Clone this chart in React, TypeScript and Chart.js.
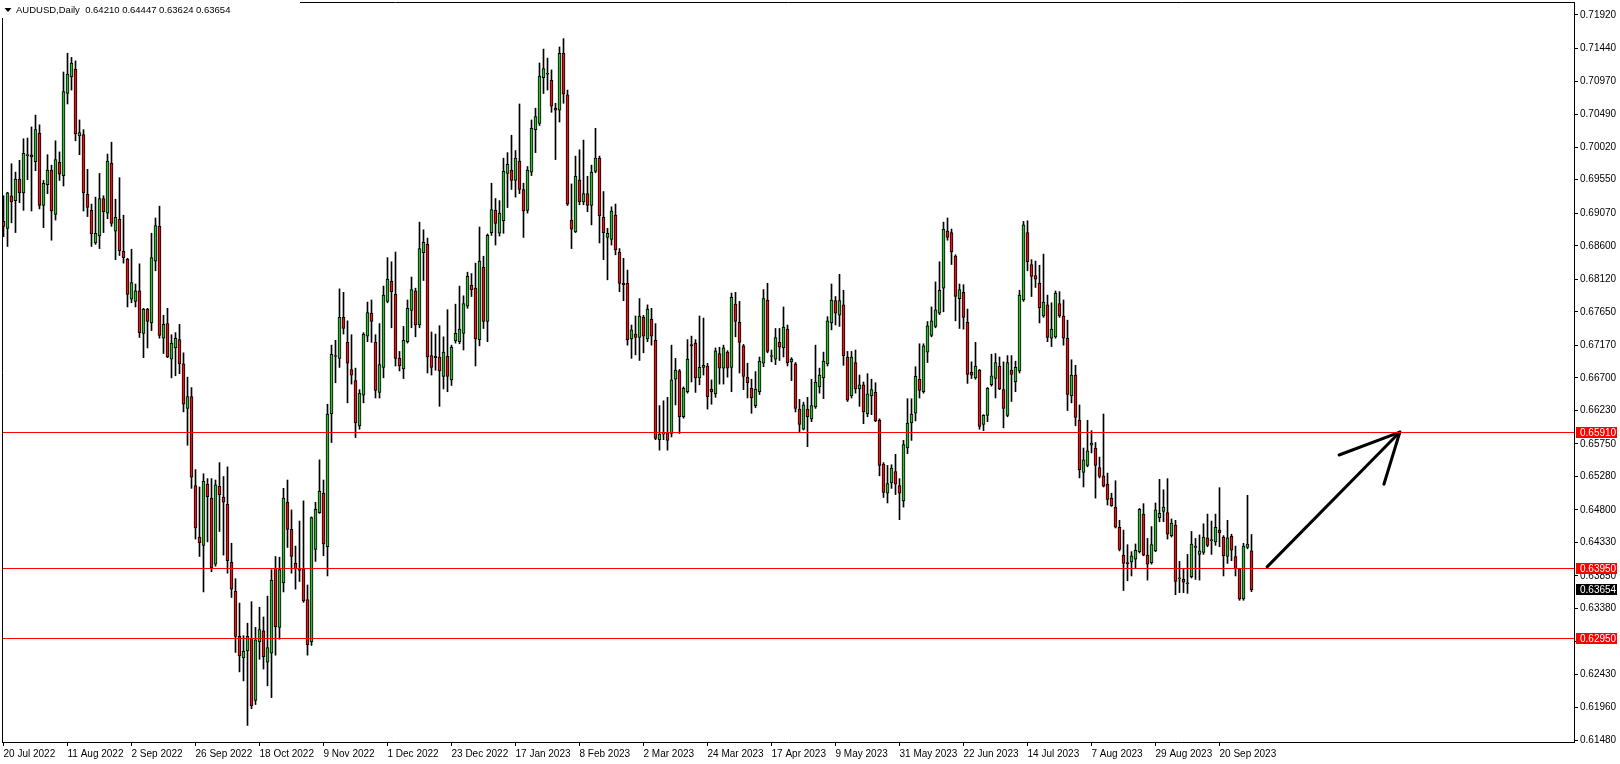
import { useEffect, useRef } from 'react';
import { Chart, registerables } from 'chart.js';

Chart.register(...registerables);

const SYMBOL = 'AUDUSD,Daily';
const X_TICK_LABELS = ['20 Jul 2022', '11 Aug 2022', '2 Sep 2022', '26 Sep 2022', '18 Oct 2022', '9 Nov 2022', '1 Dec 2022', '23 Dec 2022', '17 Jan 2023', '8 Feb 2023', '2 Mar 2023', '24 Mar 2023', '17 Apr 2023', '9 May 2023', '31 May 2023', '22 Jun 2023', '14 Jul 2023', '7 Aug 2023', '29 Aug 2023', '20 Sep 2023'];
const BARS_PER_TICK = 16;
const SLOT_COUNT = 393;
const PRICE_TICKS = [0.7192, 0.7144, 0.7097, 0.7049, 0.7002, 0.6955, 0.6907, 0.686, 0.6812, 0.6765, 0.6717, 0.667, 0.6623, 0.6575, 0.6528, 0.648, 0.6433, 0.6385, 0.6338, 0.6291, 0.6243, 0.6196, 0.6148];
const LEVELS = [0.6591, 0.6395, 0.6295];
const Y_MIN = 0.61461;
const Y_MAX = 0.720926;

const OPEN = [
  .6895, .6885, .6932, .6925, .6956, .6936, .6990, .6991, .6981, .7022,
  .6918, .6948, .6969, .6905, .6980, .6961, .7079, .7103, .7114, .7018,
  .7020, .6934, .6911, .6864, .6874, .6928, .6907, .6979, .6881, .6898,
  .6852, .6841, .6783, .6780, .6795, .6734, .6769, .6749, .6838, .6888,
  .6727, .6748, .6697, .6713, .6725, .6690, .6626, .6643, .6515, .6441,
  .6429, .6517, .6497, .6402, .6514, .6498, .6488, .6405, .6363, .6298,
  .6267, .6277, .6295, .6206, .6290, .6306, .6261, .6274, .6396, .6311,
  .6375, .6491, .6452, .6403, .6396, .6395, .6351, .6290, .6423, .6476,
  .6504, .6427, .6618, .6702, .6698, .6757, .6721, .6682, .6666, .6601,
  .6645, .6730, .6763, .6721, .6649, .6685, .6780, .6809, .6790, .6698,
  .6683, .6722, .6767, .6795, .6746, .6850, .6862, .6702, .6701, .6700,
  .6672, .6701, .6667, .6723, .6722, .6734, .6773, .6803, .6799, .6725,
  .6829, .6751, .6879, .6911, .6878, .6896, .6964, .6969, .6954, .6982,
  .6941, .6911, .6966, .7027, .7036, .7102, .7107, .7098, .7058, .7055,
  .7137, .7077, .6897, .6880, .6955, .6923, .6935, .6918, .6967, .6986,
  .6901, .6872, .6869, .6904, .6851, .6806, .6806, .6726, .6733, .6728,
  .6757, .6726, .6754, .6724, .6581, .6589, .6591, .6590, .6668, .6680,
  .6614, .6650, .6718, .6720, .6670, .6685, .6687, .6654, .6647, .6705,
  .6684, .6707, .6685, .6776, .6750, .6716, .6671, .6655, .6630, .6650,
  .6691, .6782, .6701, .6697, .6721, .6713, .6740, .6693, .6690, .6625,
  .6596, .6625, .6611, .6628, .6657, .6670, .6690, .6749, .6781, .6760,
  .6775, .6700, .6644, .6692, .6654, .6660, .6618, .6644, .6649, .6609,
  .6546, .6504, .6519, .6535, .6515, .6493, .6569, .6605, .6619, .6668,
  .6650, .6707, .6731, .6744, .6763, .6799, .6881, .6879, .6845, .6784,
  .6793, .6750, .6678, .6670, .6681, .6603, .6616, .6660, .6669, .6687,
  .6653, .6616, .6681, .6664, .6680, .6782, .6879, .6833, .6817, .6806,
  .6759, .6775, .6727, .6729, .6777, .6759, .6727, .6644, .6674, .6609,
  .6534, .6544, .6573, .6569, .6541, .6529, .6517, .6497, .6484, .6455,
  .6415, .6404, .6405, .6409, .6420, .6474, .6415, .6404, .6421, .6469,
  .6478, .6476, .6443, .6458, .6381, .6380, .6374, .6384, .6426, .6416,
  .6419, .6440, .6436, .6434, .6451, .6441, .6413, .6442, .6413, .6395,
  .6352, .6426, .64210,
];

const HIGH = [
  .6932, .6937, .6978, .6966, .6983, .7014, .7015, .7031, .7048, .7034,
  .6954, .6991, .6976, .7011, .6995, .7110, .7137, .7131, .7126, .7041,
  .7027, .6970, .6920, .6930, .6964, .6932, .6992, .7009, .6927, .6958,
  .6904, .6842, .6855, .6805, .6834, .6770, .6770, .6878, .6900, .6917,
  .6760, .6770, .6732, .6735, .6747, .6706, .6671, .6656, .6538, .6513,
  .6532, .6525, .6525, .6523, .6548, .6528, .6542, .6432, .6381, .6346,
  .6299, .6317, .6348, .6311, .6340, .6326, .6356, .6394, .6413, .6412,
  .6511, .6523, .6480, .6428, .6464, .6493, .6372, .6470, .6491, .6552,
  .6523, .6632, .6717, .6724, .6798, .6793, .6752, .6732, .6684, .6653,
  .6735, .6779, .6782, .6732, .6748, .6802, .6843, .6837, .6851, .6708,
  .6744, .6782, .6815, .6799, .6894, .6883, .6871, .6736, .6733, .6745,
  .6729, .6768, .6717, .6776, .6802, .6788, .6822, .6820, .6835, .6887,
  .6845, .6877, .6950, .6928, .6925, .6986, .6994, .7019, .6997, .7064,
  .6950, .6974, .7041, .7058, .7123, .7143, .7130, .7113, .7065, .7146,
  .7158, .7084, .6949, .6989, .6998, .7012, .6960, .6976, .7029, .6989,
  .6938, .6885, .6916, .6920, .6856, .6842, .6825, .6746, .6759, .6784,
  .6760, .6775, .6770, .6748, .6630, .6637, .6642, .6717, .6698, .6682,
  .6657, .6725, .6730, .6725, .6759, .6756, .6691, .6667, .6713, .6714,
  .6717, .6709, .6792, .6793, .6780, .6718, .6691, .6668, .6679, .6700,
  .6797, .6806, .6710, .6741, .6741, .6772, .6746, .6699, .6692, .6639,
  .6635, .6642, .6668, .6717, .6684, .6707, .6758, .6805, .6787, .6819,
  .6796, .6708, .6708, .6710, .6674, .6664, .6676, .6668, .6663, .6611,
  .6548, .6544, .6545, .6560, .6525, .6580, .6640, .6640, .6686, .6719,
  .6719, .6751, .6772, .6808, .6837, .6894, .6900, .6884, .6847, .6805,
  .6804, .6769, .6693, .6721, .6682, .6617, .6656, .6704, .6705, .6700,
  .6693, .6702, .6702, .6694, .6796, .6895, .6896, .6840, .6838, .6832,
  .6848, .6789, .6778, .6795, .6794, .6782, .6753, .6696, .6688, .6631,
  .6569, .6609, .6594, .6577, .6556, .6618, .6533, .6504, .6522, .6465,
  .6451, .6430, .6420, .6431, .6482, .6489, .6439, .6456, .6490, .6524,
  .6509, .6525, .6467, .6465, .6406, .6395, .6416, .6449, .6439, .6444,
  .6460, .6474, .6464, .6474, .6512, .6443, .6465, .6445, .6428, .6396,
  .6432, .6501, .64447,
];

const LOW = [
  .6873, .6859, .6893, .6879, .6922, .6911, .6955, .6910, .6968, .6913,
  .6886, .6935, .6868, .6897, .6954, .6946, .7064, .7084, .7011, .6991,
  .6910, .6902, .6859, .6862, .6856, .6879, .6899, .6888, .6840, .6846,
  .6835, .6772, .6778, .6772, .6728, .6699, .6713, .6738, .6824, .6727,
  .6705, .6699, .6670, .6673, .6676, .6621, .6573, .6511, .6438, .6413,
  .6362, .6434, .6391, .6399, .6449, .6415, .6389, .6354, .6275, .6247,
  .6234, .6170, .6194, .6200, .6265, .6251, .6227, .6210, .6271, .6294,
  .6362, .6426, .6389, .6366, .6377, .6347, .6271, .6285, .6406, .6475,
  .6414, .6385, .6577, .6663, .6685, .6733, .6634, .6661, .6584, .6596,
  .6634, .6722, .6721, .6641, .6641, .6670, .6778, .6742, .6687, .6680,
  .6669, .6720, .6742, .6729, .6742, .6810, .6677, .6674, .6681, .6629,
  .6654, .6650, .6659, .6720, .6719, .6710, .6770, .6787, .6687, .6716,
  .6741, .6722, .6875, .6861, .6874, .6878, .6915, .6941, .6930, .6935,
  .6872, .6907, .6961, .6994, .7033, .7079, .7084, .7052, .6984, .7038,
  .7065, .6918, .6856, .6879, .6919, .6919, .6909, .6890, .6965, .6864,
  .6840, .6811, .6861, .6847, .6794, .6781, .6717, .6698, .6703, .6695,
  .6706, .6722, .6717, .6581, .6566, .6581, .6566, .6585, .6631, .6590,
  .6612, .6648, .6664, .6649, .6660, .6674, .6625, .6632, .6642, .6661,
  .6661, .6671, .6650, .6729, .6677, .6653, .6641, .6619, .6627, .6646,
  .6686, .6706, .6693, .6689, .6695, .6700, .6687, .6666, .6621, .6591,
  .6595, .6571, .6607, .6626, .6648, .6640, .6687, .6739, .6746, .6744,
  .6688, .6636, .6641, .6648, .6629, .6604, .6614, .6617, .6607, .6529,
  .6498, .6490, .6511, .6502, .6466, .6484, .6561, .6580, .6608, .6641,
  .6648, .6692, .6729, .6742, .6761, .6765, .6868, .6833, .6752, .6741,
  .6740, .6662, .6669, .6668, .6596, .6594, .6607, .6658, .6641, .6653,
  .6598, .6614, .6636, .6650, .6677, .6780, .6824, .6787, .6800, .6749,
  .6757, .6722, .6715, .6727, .6757, .6717, .6623, .6634, .6601, .6526,
  .6513, .6542, .6562, .6497, .6526, .6513, .6487, .6485, .6454, .6421,
  .6364, .6378, .6385, .6396, .6418, .6414, .6379, .6402, .6420, .6463,
  .6463, .6438, .6441, .6358, .6361, .6361, .6360, .6382, .6380, .6379,
  .6416, .6427, .6416, .6429, .6427, .6385, .6403, .6407, .6385, .6350,
  .6350, .6424, .63624,
];

const CLOSE = [
  .6888, .6936, .6923, .6956, .6936, .6993, .6991, .6988, .7027, .6918,
  .6950, .6969, .6910, .6984, .6963, .7082, .7107, .7123, .7021, .7023,
  .6936, .6915, .6877, .6878, .6928, .6909, .6982, .6892, .6901, .6853,
  .6843, .6790, .6807, .6795, .6735, .6769, .6751, .6843, .6889, .6731,
  .6747, .6700, .6720, .6727, .6690, .6632, .6643, .6527, .6454, .6433,
  .6521, .6499, .6397, .6516, .6502, .6491, .6407, .6366, .6298, .6270,
  .6277, .6298, .6198, .6293, .6308, .6269, .6282, .6379, .6312, .6394,
  .6497, .6452, .6413, .6395, .6393, .6349, .6286, .6469, .6481, .6507,
  .6431, .6618, .6704, .6701, .6757, .6741, .6691, .6674, .6605, .6648,
  .6733, .6764, .6751, .6652, .6689, .6789, .6812, .6794, .6698, .6687,
  .6724, .6770, .6797, .6746, .6856, .6865, .6700, .6685, .6699, .6680,
  .6707, .6672, .6714, .6734, .6740, .6777, .6816, .6797, .6726, .6838,
  .6751, .6875, .6912, .6892, .6907, .6967, .6977, .6954, .6986, .6941,
  .6910, .6969, .7029, .7046, .7104, .7115, .7108, .7061, .7055, .7137,
  .7078, .6920, .6884, .6960, .6923, .6935, .6918, .6966, .6986, .6903,
  .6879, .6878, .6910, .6854, .6806, .6804, .6725, .6739, .6728, .6759,
  .6730, .6769, .6730, .6583, .6589, .6591, .6580, .6667, .6681, .6614,
  .6655, .6697, .6716, .6670, .6685, .6688, .6643, .6650, .6709, .6684,
  .6713, .6684, .6786, .6751, .6721, .6672, .6663, .6641, .6654, .6694,
  .6784, .6708, .6702, .6728, .6714, .6743, .6692, .6697, .6626, .6603,
  .6631, .6614, .6630, .6664, .6674, .6694, .6752, .6782, .6763, .6781,
  .6702, .6638, .6700, .6654, .6660, .6621, .6647, .6653, .6608, .6544,
  .6505, .6518, .6540, .6517, .6504, .6574, .6605, .6618, .6672, .6652,
  .6716, .6745, .6752, .6768, .6796, .6884, .6872, .6851, .6787, .6797,
  .6757, .6675, .6674, .6687, .6600, .6616, .6655, .6673, .6692, .6654,
  .6626, .6692, .6675, .6685, .6789, .6890, .6837, .6816, .6812, .6771,
  .6779, .6728, .6740, .6792, .6759, .6727, .6646, .6674, .6613, .6538,
  .6552, .6565, .6576, .6544, .6528, .6514, .6495, .6486, .6455, .6423,
  .6403, .6403, .6414, .6422, .6481, .6415, .6402, .6430, .6480, .6475,
  .6484, .6445, .6461, .6377, .6382, .6376, .6375, .6431, .6428, .6421,
  .6441, .6429, .6437, .6455, .6447, .6414, .6440, .6422, .6395, .6352,
  .6428, .6431, .63654,
];

// hand-drawn arrow, in (bar index, price) units
const ARROW_SHAFT = [{ x: 315.9, y: 0.6398 }, { x: 349.1, y: 0.6592 }];
const ARROW_HEAD = [{ x: 333.9, y: 0.6559 }, { x: 349.1, y: 0.6592 }, { x: 345.1, y: 0.6517 }];

const GREEN = 'rgb(52,186,52)';
const RED = 'rgb(232,20,20)';
const FONT = 'Liberation Sans';
const MIN_BODY = 0.00014;

export default function App() {
  const ref = useRef<HTMLCanvasElement>(null);

  useEffect(() => {
    const canvas = ref.current;
    if (!canvas) return;
    const xMin = -0.375;
    const xMax = SLOT_COUNT - 0.375;
    const last = OPEN.length - 1;

    const wicks = OPEN.map((_, i) => ({ x: i, y: [LOW[i], HIGH[i]] }));
    const bodies = OPEN.map((o, i) => {
      let lo = Math.min(o, CLOSE[i]);
      let hi = Math.max(o, CLOSE[i]);
      if (hi - lo < MIN_BODY) {
        const m = (lo + hi) / 2;
        lo = m - MIN_BODY / 2;
        hi = m + MIN_BODY / 2;
      }
      return { x: i, y: [lo, hi] };
    });
    const bodyColors = OPEN.map((o, i) => (CLOSE[i] >= o ? GREEN : RED));

    const overlay = {
      id: 'overlay',
      afterDatasetsDraw(chart: any) {
        const { ctx, chartArea: a, scales } = chart;
        const ys = scales.y;
        ctx.save();
        ctx.strokeStyle = '#ff0000';
        ctx.lineWidth = 1;
        LEVELS.forEach((lv) => {
          const py = Math.floor(ys.getPixelForValue(lv)) + 0.5;
          ctx.beginPath();
          ctx.moveTo(a.left, py);
          ctx.lineTo(a.right, py);
          ctx.stroke();
        });
        ctx.restore();
      },
      afterDraw(chart: any) {
        const { ctx, chartArea: a, scales } = chart;
        const ys = scales.y;
        ctx.save();
        ctx.strokeStyle = '#000';
        ctx.lineWidth = 1;
        const l = Math.floor(a.left) + 0.5;
        const t = Math.floor(a.top) - 0.5;
        ctx.beginPath();
        ctx.moveTo(l, a.bottom);
        ctx.lineTo(l, t);
        ctx.lineTo(a.right + 1, t);
        ctx.stroke();

        ctx.fillStyle = '#fff';
        ctx.fillRect(0, 0, 300, 18);
        ctx.fillStyle = '#000';
        ctx.beginPath();
        ctx.moveTo(4.5, 8);
        ctx.lineTo(11.5, 8);
        ctx.lineTo(8, 12);
        ctx.closePath();
        ctx.fill();
        ctx.font = `9.5px "${FONT}"`;
        ctx.textBaseline = 'middle';
        ctx.textAlign = 'left';
        const header = `${SYMBOL}  ${[OPEN[last], HIGH[last], LOW[last], CLOSE[last]].map((v) => v.toFixed(5)).join(' ')}`;
        ctx.fillText(header, 16, 10.5);

        const tag = (value: number, color: string) => {
          const py = ys.getPixelForValue(value);
          ctx.fillStyle = color;
          ctx.fillRect(a.right + 2, Math.round(py - 5.5), 41, 11);
          ctx.fillStyle = '#fff';
          ctx.font = `10px "${FONT}"`;
          ctx.fillText(value.toFixed(5), a.right + 6, py + 0.5);
        };
        LEVELS.forEach((v) => tag(v, '#ff0000'));
        tag(CLOSE[last], '#000');
        ctx.restore();
      },
    };

    const chart = new Chart(canvas, {
      type: 'bar',
      data: {
        datasets: [
          {
            type: 'bar',
            data: bodies as any,
            backgroundColor: bodyColors,
            borderColor: '#000',
            borderWidth: 1,
            borderSkipped: false,
            barThickness: 3,
            grouped: false,
            order: 1,
          } as any,
          {
            type: 'bar',
            data: wicks as any,
            backgroundColor: '#000',
            borderWidth: 0,
            barThickness: 1,
            grouped: false,
            order: 2,
          } as any,
          {
            type: 'line',
            data: ARROW_SHAFT,
            borderColor: '#000',
            borderWidth: 3,
            borderCapStyle: 'round',
            pointRadius: 0,
            order: 0,
          } as any,
          {
            type: 'line',
            data: ARROW_HEAD,
            borderColor: '#000',
            borderWidth: 3,
            borderCapStyle: 'round',
            borderJoinStyle: 'round',
            pointRadius: 0,
            order: 0,
          } as any,
        ],
      },
      options: {
        animation: false,
        responsive: false,
        devicePixelRatio: 1,
        events: [],
        layout: { padding: { left: 2, top: 3, right: 0, bottom: 0 } },
        plugins: { legend: { display: false }, tooltip: { enabled: false } },
        scales: {
          x: {
            type: 'linear',
            min: xMin,
            max: xMax,
            offset: false,
            grid: { drawOnChartArea: false, drawTicks: true, tickLength: 4, color: '#000', offset: false },
            border: { display: true, color: '#000', width: 1 },
            ticks: {
              autoSkip: false,
              maxRotation: 0,
              minRotation: 0,
              align: 'start',
              padding: 2,
              color: '#000',
              font: { family: FONT, size: 10 },
              callback: (_v: any, idx: number) => X_TICK_LABELS[idx],
            },
            afterBuildTicks: (s: any) => {
              s.ticks = X_TICK_LABELS.map((_, k) => ({ value: k * BARS_PER_TICK }));
            },
            afterFit: (s: any) => {
              s.height = 22;
              s.paddingLeft = 0;
              s.paddingRight = 0;
            },
          },
          y: {
            type: 'linear',
            position: 'right',
            min: Y_MIN,
            max: Y_MAX,
            beginAtZero: false,
            grid: { drawOnChartArea: false, drawTicks: true, tickLength: 4, color: '#000' },
            border: { display: true, color: '#000', width: 1 },
            ticks: {
              padding: 2,
              color: '#000',
              font: { family: FONT, size: 10 },
              callback: (v: any) => Number(v).toFixed(5),
            },
            afterBuildTicks: (s: any) => {
              s.ticks = PRICE_TICKS.map((v) => ({ value: v }));
            },
            afterFit: (s: any) => {
              s.width = 46;
              s.paddingTop = 0;
              s.paddingBottom = 0;
            },
          },
        },
      } as any,
      plugins: [overlay],
    });
    return () => chart.destroy();
  }, []);

  return (
    <div style={{ position: 'absolute', left: 0, top: 0, width: 1620, height: 764, background: '#fff' }}>
      <canvas ref={ref} width={1620} height={764} style={{ display: 'block', width: 1620, height: 764 }} />
    </div>
  );
}
